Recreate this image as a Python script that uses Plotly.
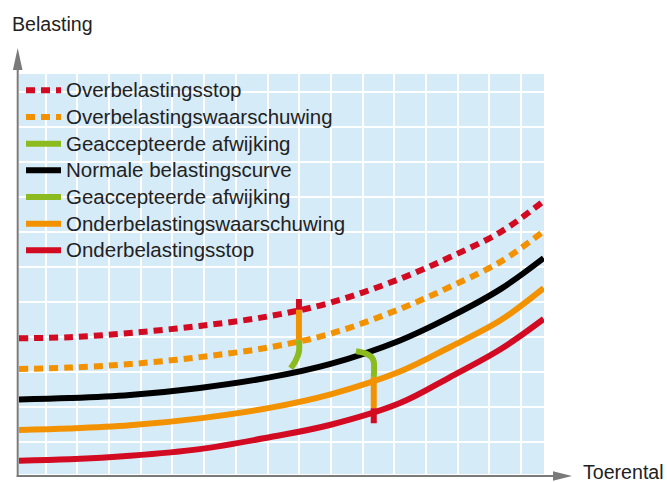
import plotly.graph_objects as go

# Figure geometry (pixels)
W, H = 667, 482
L, R, T, B = 19, 544, 74, 474  # plot area edges

# Curves: toerental (grid units) vs belasting (grid units)
toerental = [0, 1.6, 3.5, 5.7, 7.9, 9.8, 12.0, 13.6, 15.2, 16.55]
overbelastingsstop = [3.88, 3.91, 4.03, 4.23, 4.51, 4.89, 5.57, 6.20, 6.92, 7.80]
overbelastingswaarschuwing = [3.00, 3.04, 3.14, 3.34, 3.62, 4.00, 4.71, 5.35, 6.07, 6.94]
normale_curve = [2.13, 2.17, 2.26, 2.46, 2.76, 3.14, 3.81, 4.49, 5.29, 6.17]
onderbelastingswaarschuwing = [1.26, 1.30, 1.39, 1.59, 1.89, 2.27, 2.92, 3.63, 4.40, 5.31]
onderbelastingsstop = [0.38, 0.42, 0.52, 0.71, 1.05, 1.40, 2.02, 2.77, 3.57, 4.43]

# Upper tolerance marker (above the normal curve)
boven_x = 8.83
boven_rood = [5.00, 4.69]
boven_oranje = [4.69, 3.83]
boven_groen_x = [8.83, 8.83, 8.71, 8.57]
boven_groen_y = [3.83, 3.49, 3.21, 3.02]

# Lower tolerance marker (below the normal curve)
onder_x = 11.19
onder_groen_x = [10.63, 10.97, 11.13, 11.19, 11.19]
onder_groen_y = [3.51, 3.43, 3.33, 3.21, 2.77]
onder_oranje = [2.77, 1.88]
onder_rood = [1.88, 1.45]

namen = [
    "Overbelastingsstop",
    "Overbelastingswaarschuwing",
    "Geaccepteerde afwijking",
    "Normale belastingscurve",
    "Geaccepteerde afwijking",
    "Onderbelastingswaarschuwing",
    "Onderbelastingsstop",
]

RED = "#d20a22"
ORANGE = "#f39200"
GREEN = "#8cbb1f"
BLACK = "#000000"
AXIS = "#7a7a7a"
BG = "#d6ebf8"
LW = 6
DOT = "9px,6px"
FAMILY = "Liberation Sans, Arial, sans-serif"
TEXT = "#222222"

fig = go.Figure()


def legend_label(name):
    # larger glyphs than the legend row pitch font
    return f'<span style="font-size:20.5px">{name}</span>'


def curve(y, name, color, dash="solid", show=True, x=None):
    fig.add_trace(go.Scatter(
        x=toerental if x is None else x, y=y, name=legend_label(name), mode="lines",
        line=dict(color=color, width=LW, dash=dash, shape="spline", smoothing=1),
        showlegend=show, hoverinfo="skip",
    ))


curve(overbelastingsstop, namen[0], RED, DOT)
curve(overbelastingswaarschuwing, namen[1], ORANGE, DOT)
curve(boven_groen_y, namen[2], GREEN, x=boven_groen_x)
curve(normale_curve, namen[3], BLACK)
curve(onder_groen_y, namen[4], GREEN, x=onder_groen_x)
curve(onderbelastingswaarschuwing, namen[5], ORANGE)
curve(onderbelastingsstop, namen[6], RED)

# vertical segments of the tolerance markers
for xs, ys, c in [
    ([boven_x, boven_x], boven_rood, RED),
    ([boven_x, boven_x], boven_oranje, ORANGE),
    ([onder_x, onder_x], onder_oranje, ORANGE),
    ([onder_x, onder_x], onder_rood, RED),
]:
    fig.add_trace(go.Scatter(x=xs, y=ys, mode="lines", showlegend=False,
                             hoverinfo="skip", line=dict(color=c, width=LW)))


def px(xp):
    return (xp - L) / (R - L)


def py(yp):
    return (B - yp) / (B - T)


def path(points):
    return "M " + " L ".join(f"{px(a):.5f},{py(b):.5f}" for a, b in points) + " Z"


shapes = [
    # y axis with arrow
    dict(type="line", xref="paper", yref="paper", x0=px(17.7), x1=px(17.7),
         y0=py(477), y1=py(66), line=dict(color=AXIS, width=2)),
    dict(type="path", xref="paper", yref="paper",
         path=path([(12.9, 70), (17.7, 48), (22.5, 70)]),
         fillcolor=AXIS, line=dict(width=0)),
    # x axis with arrow
    dict(type="line", xref="paper", yref="paper", x0=px(16.7), x1=px(556),
         y0=py(476), y1=py(476), line=dict(color=AXIS, width=2)),
    dict(type="path", xref="paper", yref="paper",
         path=path([(553, 471.3), (572, 476), (553, 480.7)]),
         fillcolor=AXIS, line=dict(width=0)),
]

TITLE_FONT = dict(family=FAMILY, size=19.6, color=TEXT)

annotations = [
    dict(text="Belasting", xref="paper", yref="paper", x=px(9.8), y=py(24.5),
         xanchor="left", yanchor="middle", showarrow=False, font=TITLE_FONT),
    dict(text="Toerental", xref="paper", yref="paper", x=px(581), y=py(471.5),
         xanchor="left", yanchor="middle", showarrow=False, font=TITLE_FONT),
]

fig.update_layout(
    width=W, height=H,
    margin=dict(l=L, r=W - R, t=T, b=H - B, pad=0),
    paper_bgcolor="white", plot_bgcolor=BG,
    xaxis=dict(range=[0, 16.56], tick0=0.84, dtick=1, showgrid=True,
               gridcolor="white", gridwidth=2, showticklabels=False,
               ticks="", zeroline=False, showline=False, fixedrange=True),
    yaxis=dict(range=[0, 11.43], tick0=0.92, dtick=1, showgrid=True,
               gridcolor="white", gridwidth=2, showticklabels=False,
               ticks="", zeroline=False, showline=False, fixedrange=True),
    legend=dict(x=px(21), y=py(72), xanchor="left", yanchor="top",
                bgcolor="rgba(0,0,0,0)",
                font=dict(family=FAMILY, size=18.2, color=TEXT),
                itemwidth=35, traceorder="normal", tracegroupgap=0),
    shapes=shapes, annotations=annotations, showlegend=True,
)

fig.write_html("out.html")
